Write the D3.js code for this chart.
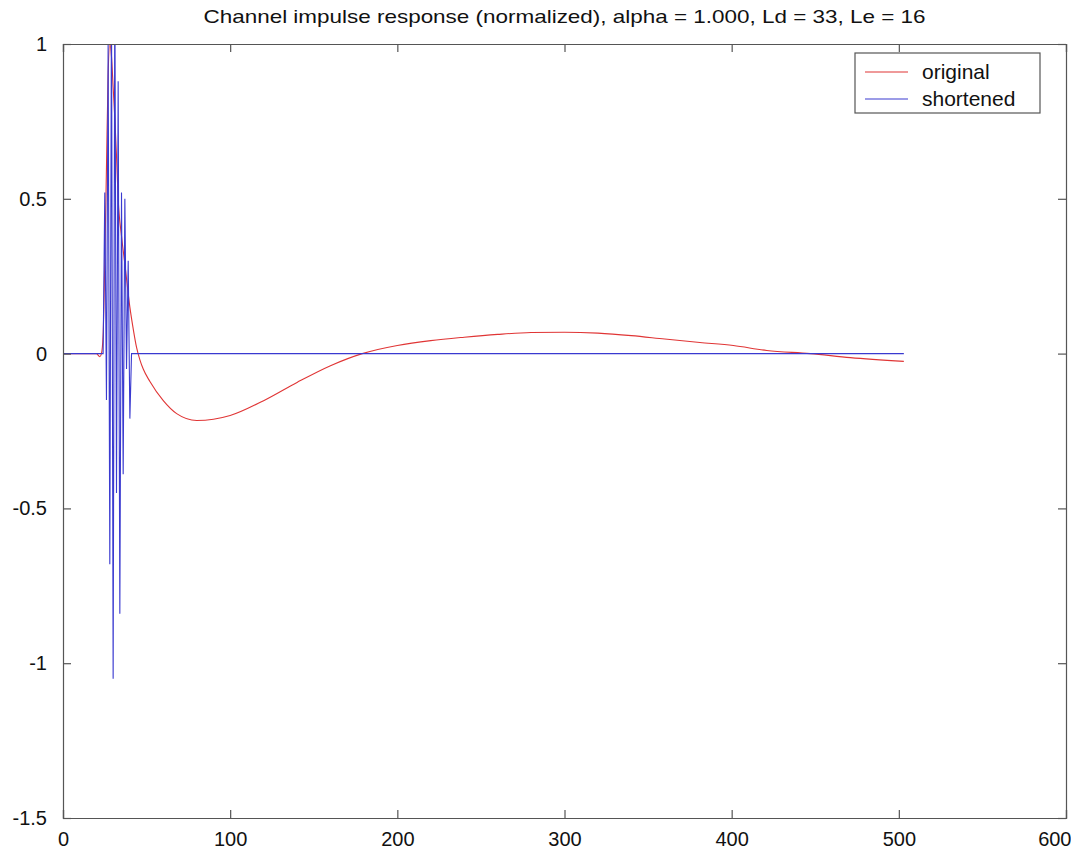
<!DOCTYPE html>
<html>
<head>
<meta charset="utf-8">
<script src="https://cdn.jsdelivr.net/npm/d3@7"></script>
<style>
  body { margin: 0; background: #fff; }
  text { font-family: "Liberation Sans", Arial, sans-serif; fill: #111; }
</style>
</head>
<body>
<svg id="chart"></svg>
<script>
const WIDTH = 1071;
const HEIGHT = 854;

const TITLE = "Channel impulse response (normalized), alpha = 1.000, Ld = 33, Le = 16";
const SERIES_NAMES = ["original", "shortened"];
const X_TICKS = [0, 100, 200, 300, 400, 500, 600];
const Y_TICKS = [1, 0.5, 0, -0.5, -1, -1.5];

// original channel, sample index / value
const origN = [0, 20, 22, 23, 24, 25, 26, 27, 28, 29, 30, 31, 32, 33, 35, 37, 40, 42, 44, 46, 48,
  52, 60, 68, 80, 90, 100, 120, 140, 160, 179, 200, 220, 240, 260, 280, 300, 320, 340, 360,
  381, 401, 421, 447, 471, 503];
const origV = [0, 0, -0.01, 0, 0.06, 0.3, 0.6, 0.9, 1.0, 0.96, 0.86, 0.76, 0.64, 0.5, 0.38, 0.29, 0.15, 0.08, 0.02, -0.02, -0.05,
  -0.09, -0.152, -0.194, -0.216, -0.212, -0.2, -0.152, -0.093, -0.039, 0, 0.026, 0.042, 0.053, 0.062, 0.068, 0.069, 0.066, 0.058, 0.047,
  0.036, 0.026, 0.01, 0, -0.013, -0.025];

// shortened channel
const shortN = [0, 24, 25, 26, 27, 28, 29, 30, 31, 32, 33, 34, 35, 36, 37, 38, 39, 40, 41, 503];
const shortV = [0, 0, 0.52, -0.15, 1.0, -0.68, 1.15, -1.05, 1.2, -0.45, 0.88, -0.84, 0.52, -0.39, 0.5, -0.05, 0.3, -0.21, 0, 0];

const margin = { left: 63, right: 5, top: 44, bottom: 36 };
const svg = d3.select("#chart").attr("width", WIDTH).attr("height", HEIGHT);

const xScale = d3.scaleLinear([0, 600], [margin.left, WIDTH - margin.right]);
const yScale = d3.scaleLinear([-1.5, 1], [HEIGHT - margin.bottom, margin.top]);

svg.append("clipPath").attr("id", "plot-clip")
  .append("rect")
  .attr("x", xScale(0)).attr("y", yScale(1))
  .attr("width", xScale(600) - xScale(0))
  .attr("height", yScale(-1.5) - yScale(1));

const line = d3.line().x(d => xScale(d[0])).y(d => yScale(d[1]));

const plot = svg.append("g").attr("clip-path", "url(#plot-clip)");

plot.append("path")
  .datum(d3.zip(origN, origV))
  .attr("fill", "none")
  .attr("stroke", "#e03535")
  .attr("stroke-width", 1.1)
  .attr("d", line.curve(d3.curveMonotoneX));

plot.append("path")
  .datum(d3.zip(shortN, shortV))
  .attr("fill", "none")
  .attr("stroke", "#3a3ad0")
  .attr("stroke-width", 1.1)
  .attr("d", line.curve(d3.curveLinear));

// axes box, MATLAB style: ticks inside on all four sides
const TICK = 8;
const axisColor = "#555";

svg.append("g")
  .attr("transform", `translate(0,${yScale(-1.5)})`)
  .call(d3.axisBottom(xScale).tickValues(X_TICKS).tickSize(-TICK).tickPadding(14).tickFormat(d => String(d)))
  .call(g => g.selectAll("text").attr("font-size", 20))
  .call(g => g.selectAll(".tick").filter(d => d === 600).select("text")
    .attr("text-anchor", "end").attr("dx", 5));

svg.append("g")
  .attr("transform", `translate(0,${yScale(1)})`)
  .call(d3.axisTop(xScale).tickValues(X_TICKS).tickSize(-TICK).tickFormat(""));

svg.append("g")
  .attr("transform", `translate(${xScale(0)},0)`)
  .call(d3.axisLeft(yScale).tickValues(Y_TICKS).tickSize(-TICK).tickPadding(16).tickFormat(d => String(d)))
  .call(g => g.selectAll("text").attr("font-size", 20));

svg.append("g")
  .attr("transform", `translate(${xScale(600)},0)`)
  .call(d3.axisRight(yScale).tickValues(Y_TICKS).tickSize(-TICK).tickFormat(""));

svg.selectAll(".domain, .tick line").attr("stroke", axisColor).attr("stroke-width", 1.2);
svg.selectAll(".tick text").attr("font-family", "Liberation Sans, Arial, sans-serif").attr("fill", "#111");

// title
svg.append("text")
  .attr("x", (xScale(0) + xScale(600)) / 2)
  .attr("y", 23)
  .attr("text-anchor", "middle")
  .attr("font-size", 19)
  .attr("textLength", 722)
  .attr("lengthAdjust", "spacingAndGlyphs")
  .text(TITLE);

// legend
const legend = svg.append("g").attr("transform", "translate(855,53)");
legend.append("rect")
  .attr("width", 185).attr("height", 60)
  .attr("fill", "#fff").attr("stroke", "#555").attr("stroke-width", 1.2);
const legendColors = ["#e03535", "#3a3ad0"];
SERIES_NAMES.forEach((name, i) => {
  const y = 19 + i * 27;
  legend.append("line")
    .attr("x1", 10).attr("x2", 53).attr("y1", y).attr("y2", y)
    .attr("stroke", legendColors[i]).attr("stroke-width", 1.1);
  legend.append("text")
    .attr("x", 67).attr("y", y + 7)
    .attr("font-size", 21)
    .text(name);
});
</script>
</body>
</html>
